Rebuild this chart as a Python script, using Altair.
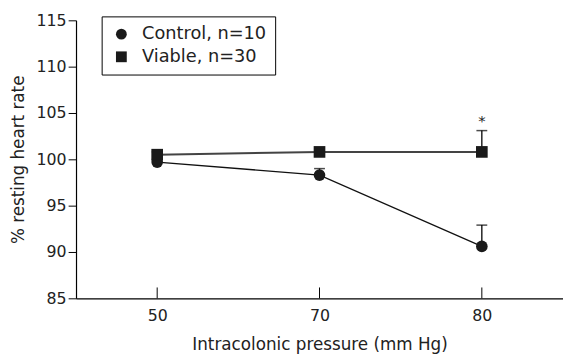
import altair as alt
import pandas as pd

pressure = ["50", "70", "80"]
control_mean = [99.7, 98.3, 90.6]
control_upper = [100.0, 99.0, 92.9]
viable_mean = [100.5, 100.8, 100.8]
viable_upper = [100.8, 101.0, 103.1]
series_names = ["Control, n=10", "Viable, n=30"]
star_x = ["80"]
star_y = [104.6]
y_ticks = [85, 90, 95, 100, 105, 110, 115]

rows = []
for i, p in enumerate(pressure):
    rows.append({"p": p, "series": series_names[0], "mean": control_mean[i], "upper": control_upper[i]})
    rows.append({"p": p, "series": series_names[1], "mean": viable_mean[i], "upper": viable_upper[i]})
df = pd.DataFrame(rows)
star_df = pd.DataFrame({"p": star_x, "y": star_y, "t": ["*"]})
tick_df = pd.DataFrame({"p": pressure})

FONT = "DejaVu Sans"
x_scale = alt.Scale(type="point", padding=0.5, domain=pressure)

x_enc = alt.X("p:O", scale=x_scale,
              axis=alt.Axis(title="Intracolonic pressure (mm Hg)", labelAngle=0, ticks=False,
                            labelPadding=10, titlePadding=13, domain=True,
                            titleFontSize=17))
y_scale = alt.Scale(domain=[85, 115], nice=False, zero=False)
y_enc = alt.Y("mean:Q", scale=y_scale,
              axis=alt.Axis(title="% resting heart rate", values=y_ticks, tickSize=8,
                            labelPadding=2, titlePadding=9, grid=False, titleFontSize=17))

base = alt.Chart(df)

err = base.mark_rule(color="black", strokeWidth=1.3).encode(x=x_enc, y=y_enc, y2="upper:Q")
caps = base.mark_tick(color="black", thickness=1.5, size=11, orient="horizontal").encode(
    x=x_enc, y=alt.Y("upper:Q", scale=y_scale))

line_c = base.transform_filter(alt.datum.series == series_names[0]).mark_line(
    color="#111111", strokeWidth=1.3).encode(x=x_enc, y=y_enc)
line_v = base.transform_filter(alt.datum.series == series_names[1]).mark_line(
    color="#444444", strokeWidth=2).encode(x=x_enc, y=y_enc)

pts = base.mark_point(filled=True, opacity=1, color="#1a1a1a").encode(
    x=x_enc, y=y_enc,
    shape=alt.Shape("series:N", scale=alt.Scale(domain=series_names, range=["circle", "square"]),
                    legend=alt.Legend(title=None, orient="none", legendX=26, legendY=-4,
                                      strokeColor="black", padding=9, labelFontSize=18,
                                      labelFont=FONT, symbolSize=120, symbolFillColor="#1a1a1a",
                                      symbolStrokeColor="#1a1a1a", rowPadding=5,
                                      labelColor="#222222", symbolOffset=2, labelOffset=12)),
    size=alt.value(140),
)

star = alt.Chart(star_df).mark_text(fontSize=15, font=FONT, color="#222222", dy=4).encode(
    x=alt.X("p:O", scale=x_scale),
    y=alt.Y("y:Q", scale=y_scale), text="t:N")

xticks = alt.Chart(tick_df).mark_rule(color="black", strokeWidth=1).encode(
    x=alt.X("p:O", scale=x_scale),
    y=alt.value(282), y2=alt.value(271))

chart = alt.layer(line_c, line_v, err, caps, pts, star, xticks).properties(
    width=494, height=282,
    autosize=alt.AutoSizeParams(type="none"),
    padding={"left": 69, "top": 10, "right": 0, "bottom": 56},
).configure_view(stroke=None).configure_axis(
    labelFont=FONT, titleFont=FONT, labelFontSize=16,
    labelColor="#222222", titleColor="#222222", titleFontWeight="normal",
    domainColor="black", tickColor="black", domainWidth=1.2, tickWidth=1,
)

chart.save("out.html", embed_options={"renderer": "svg", "actions": False})
